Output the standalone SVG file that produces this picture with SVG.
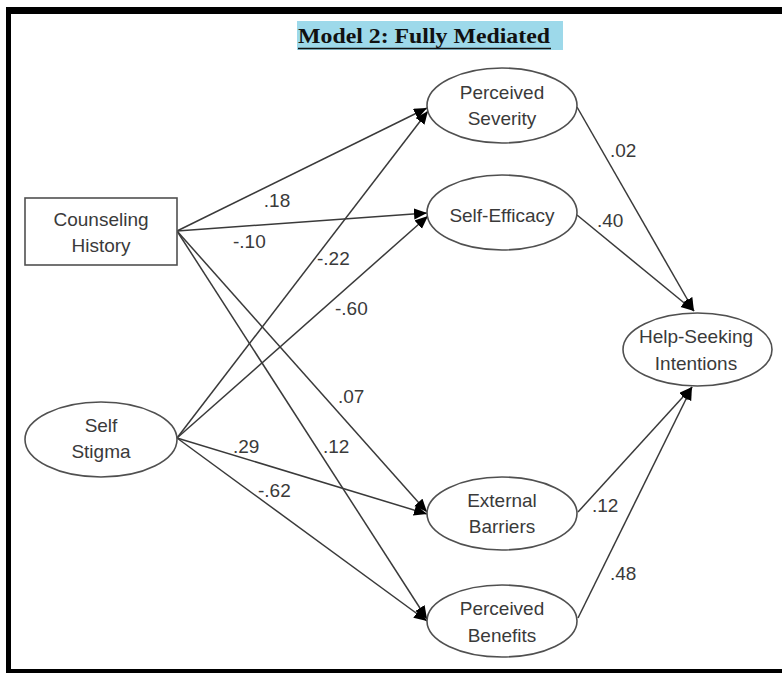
<svg xmlns="http://www.w3.org/2000/svg" width="782" height="673" viewBox="0 0 782 673">
  <style>
    .node { fill: #ffffff; stroke: #505050; stroke-width: 1.6; }
    .lbl { font-family: "Liberation Sans", Arial, sans-serif; font-size: 19px; fill: #3a3a3a; }
    .mid { text-anchor: middle; }
    .edge { stroke: #3a3a3a; stroke-width: 1.5; fill: none; }
    .arr { marker-end: url(#head); }
  </style>
  <defs>
    <marker id="head" markerUnits="userSpaceOnUse" markerWidth="14" markerHeight="12" refX="13" refY="5.5" orient="auto">
      <path d="M0,0 L13,5.5 L0,11 z" fill="#000000"/>
    </marker>
  </defs>

  <rect x="0" y="0" width="782" height="673" fill="#ffffff"/>

  <!-- frame -->
  <g id="frame" fill="#000000">
    <rect x="6" y="7" width="776" height="7"/>
    <rect x="6" y="7" width="5" height="666"/>
    <rect x="6" y="669" width="776" height="4"/>
  </g>

  <!-- title -->
  <g id="title">
    <rect x="297" y="21" width="266" height="29" fill="#9dd9ea"/>
    <text x="298" y="43" font-family="'Liberation Serif', 'Times New Roman', serif" font-weight="bold" font-size="21" fill="#111111" textLength="252" lengthAdjust="spacingAndGlyphs">Model 2: Fully Mediated</text>
    <line x1="298" y1="48.5" x2="551" y2="48.5" stroke="#111111" stroke-width="1.6"/>
  </g>

  <!-- paths -->
  <g id="connectors">
    <line class="edge arr" x1="177" y1="231" x2="427" y2="108"/>
    <line class="edge arr" x1="177" y1="231" x2="427" y2="213"/>
    <line class="edge arr" x1="177" y1="231" x2="427" y2="512"/>
    <line class="edge arr" x1="177" y1="231" x2="427" y2="619"/>
    <line class="edge arr" x1="177" y1="438" x2="428" y2="111"/>
    <line class="edge arr" x1="177" y1="438" x2="428" y2="216"/>
    <line class="edge arr" x1="177" y1="438" x2="427" y2="514"/>
    <line class="edge arr" x1="177" y1="438" x2="427" y2="621"/>
    <line class="edge arr" x1="577" y1="107" x2="694" y2="311"/>
    <line class="edge arr" x1="577" y1="215" x2="694" y2="311"/>
    <line class="edge arr" x1="578" y1="512" x2="692" y2="387"/>
    <line class="edge arr" x1="578" y1="618" x2="692" y2="387"/>
  </g>

  <!-- path coefficients -->
  <g id="coefficients" class="lbl">
    <text x="277" y="207" class="mid">.18</text>
    <text x="233" y="248">-.10</text>
    <text x="317" y="265">-.22</text>
    <text x="335" y="315">-.60</text>
    <text x="338" y="403">.07</text>
    <text x="233" y="453">.29</text>
    <text x="323" y="453">.12</text>
    <text x="258" y="497">-.62</text>
    <text x="610" y="157">.02</text>
    <text x="597" y="227">.40</text>
    <text x="592" y="512">.12</text>
    <text x="610" y="580">.48</text>
  </g>

  <g id="counseling-history">
    <rect class="node" x="25" y="198" width="152" height="67"/>
    <text class="lbl mid" x="101" y="226">Counseling</text>
    <text class="lbl mid" x="101" y="252">History</text>
  </g>

  <g id="self-stigma">
    <ellipse class="node" cx="101" cy="439.5" rx="76" ry="37.5"/>
    <text class="lbl mid" x="101" y="432">Self</text>
    <text class="lbl mid" x="101" y="458">Stigma</text>
  </g>

  <g id="perceived-severity">
    <ellipse class="node" cx="502" cy="105.5" rx="75" ry="37.5"/>
    <text class="lbl mid" x="502" y="99">Perceived</text>
    <text class="lbl mid" x="502" y="125">Severity</text>
  </g>

  <g id="self-efficacy">
    <ellipse class="node" cx="502" cy="212.5" rx="75" ry="37.5"/>
    <text class="lbl mid" x="502" y="222">Self-Efficacy</text>
  </g>

  <g id="help-seeking-intentions">
    <ellipse class="node" cx="697.5" cy="349.5" rx="74.5" ry="36.5"/>
    <text class="lbl mid" x="696" y="343">Help-Seeking</text>
    <text class="lbl mid" x="696" y="370">Intentions</text>
  </g>

  <g id="external-barriers">
    <ellipse class="node" cx="502" cy="513.5" rx="75" ry="36.5"/>
    <text class="lbl mid" x="502" y="507">External</text>
    <text class="lbl mid" x="502" y="533">Barriers</text>
  </g>

  <g id="perceived-benefits">
    <ellipse class="node" cx="502" cy="621" rx="75" ry="36"/>
    <text class="lbl mid" x="502" y="615">Perceived</text>
    <text class="lbl mid" x="502" y="642">Benefits</text>
  </g>
</svg>
